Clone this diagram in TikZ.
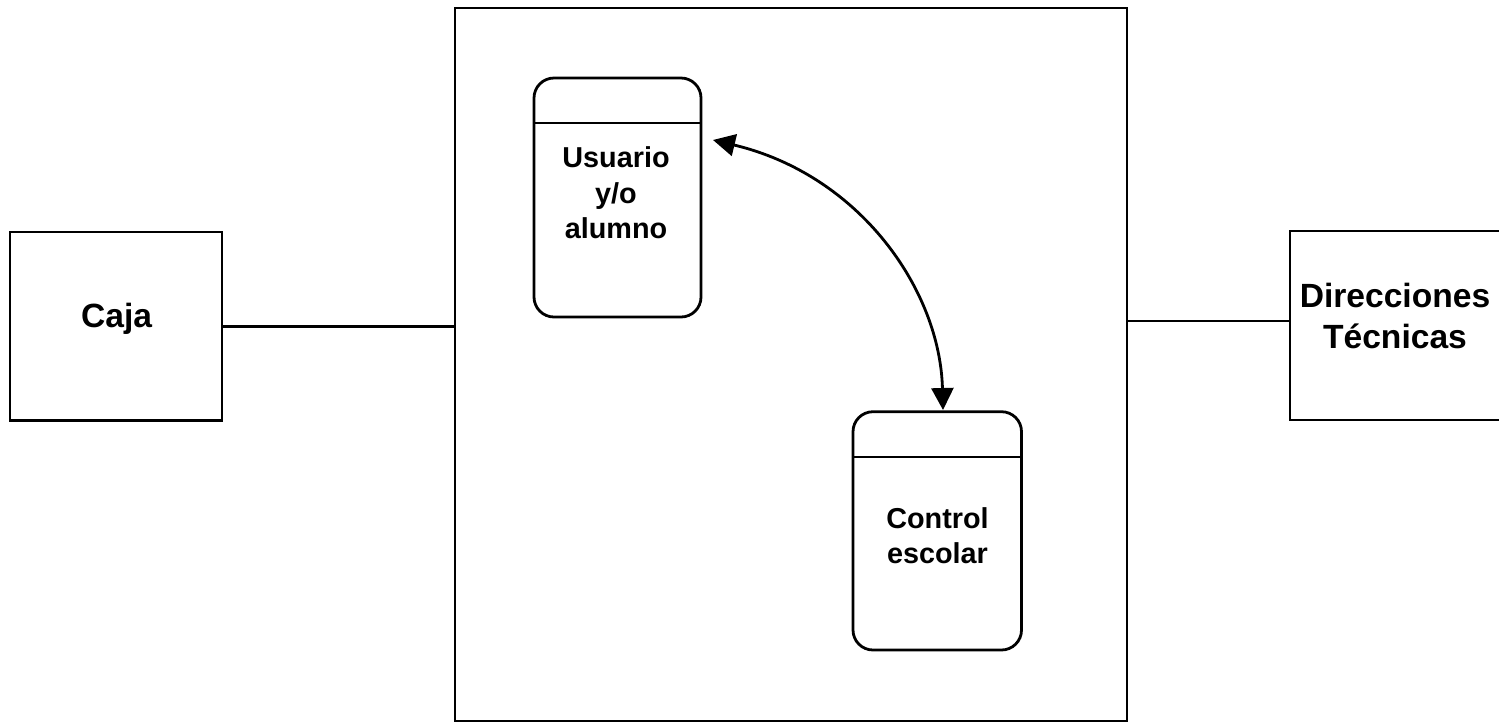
\documentclass[tikz,border=0pt]{standalone}
\usepackage{fontspec}
\setmainfont{Liberation Sans}
\usetikzlibrary{arrows.meta}
\begin{document}
\begin{tikzpicture}[x=0.5pt,y=-0.5pt,
  box/.style={draw, line width=1.4pt, inner sep=0pt, outer sep=0pt},
  rbox/.style={box, rounded corners=10pt},
  outtxt/.style={font=\fontsize{16.8}{20.5}\selectfont\bfseries, align=center, inner sep=0pt},
  intxt/.style={font=\fontsize{14.4}{17.8}\selectfont\bfseries, align=center, inner sep=0pt},
  link/.style={line width=1.4pt},
  arr/.style={line width=1.4pt, {Triangle[length=11pt,width=11pt]}-{Triangle[length=11pt,width=11pt]}}]
\useasboundingbox (0,0) rectangle (1499,725);
% outer boxes
\node[box, minimum width=336pt, minimum height=356.5pt] (big) at (791,364.5) {};
\node[box, minimum width=106pt, minimum height=94.25pt] (caja) at (116,326.25) {};
\node[box, minimum width=110pt, minimum height=94.5pt] (dir) at (1400,325.5) {};
% inner boxes
\node[rbox, minimum width=83.5pt, minimum height=119.5pt] (usu) at (617.5,197.5) {};
\node[rbox, minimum width=84.25pt, minimum height=119.15pt] (ctl) at (937.25,530.85) {};
\draw[link] (usu.west |- 0,123) -- (usu.east |- 0,123);
\draw[link] (ctl.west |- 0,457) -- (ctl.east |- 0,457);
% texts
\node[outtxt, anchor=base] (cajat) at (116.7,327.7) {Caja};
\node[outtxt] (dirt) at (1395,315.5) {Direcciones\\Técnicas};
\node[intxt] (usut) at (616,193) {Usuario\\y/o\\alumno};
\node[intxt] (ctlt) at (937.5,535.5) {Control\\escolar};
% connectors
\draw[link] (caja.east |- 0,326.7) -- (big.west |- 0,326.7);
\draw[link] (big.east |- 0,321) -- (dir.west |- 0,321);
\coordinate (a1) at (713,140);
\coordinate (a2) at (943,410);
\draw[arr] (a1) .. controls (860,175) and (940,290) .. (a2);
\end{tikzpicture}
\end{document}
